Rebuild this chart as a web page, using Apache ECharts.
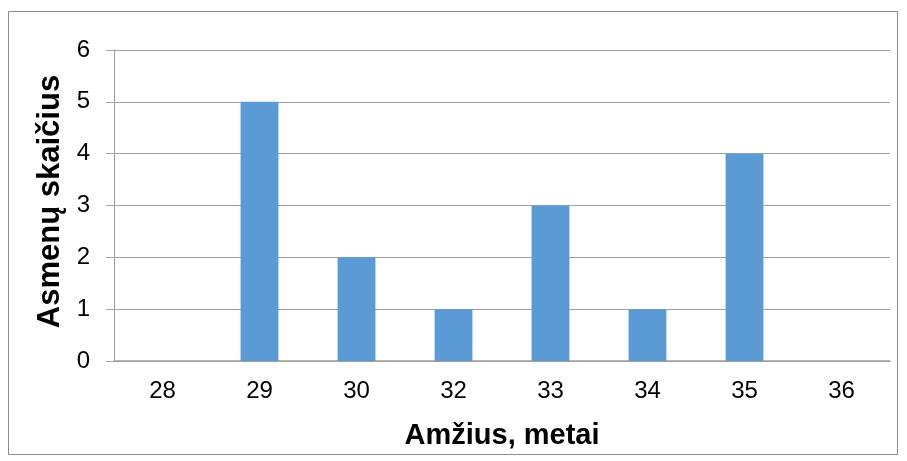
<!DOCTYPE html>
<html>
<head>
<meta charset="utf-8">
<script src="https://cdn.jsdelivr.net/npm/echarts@6/dist/echarts.min.js"></script>
<style>
  html, body { margin: 0; padding: 0; background: #fff; }
  #chart { width: 907px; height: 461px; }
</style>
</head>
<body>
<div id="chart"></div>
<script>
// Age groups (years) and number of persons in each
const ages = ['28', '29', '30', '32', '33', '34', '35', '36'];
const persons = [0, 5, 2, 1, 3, 1, 4, 0];
const yTicks = { min: 0, max: 6, interval: 1 };

const font = 'Liberation Sans, Arial, sans-serif';
const chart = echarts.init(document.getElementById('chart'), null, { renderer: 'canvas' });

chart.setOption({
  animation: false,
  backgroundColor: '#fff',
  graphic: [{
    type: 'rect',
    shape: { x: 8.5, y: 11.5, width: 889, height: 443 },
    style: { fill: 'none', stroke: '#8c8c8c', lineWidth: 1 },
    silent: true
  }],
  grid: { left: 114, right: 17, top: 50, bottom: 100 },
  xAxis: {
    type: 'category',
    data: ages,
    name: 'Amžius, metai',
    nameLocation: 'middle',
    nameGap: 60,
    nameTextStyle: { fontFamily: font, fontSize: 29, fontWeight: 'bold', color: '#000' },
    axisLine: { lineStyle: { color: '#a0a0a0', width: 1.5 } },
    axisTick: { show: false },
    axisLabel: { fontFamily: font, fontSize: 24, color: '#000', margin: 18 }
  },
  yAxis: {
    type: 'value',
    min: yTicks.min,
    max: yTicks.max,
    interval: yTicks.interval,
    name: 'Asmenų skaičius',
    nameLocation: 'middle',
    nameGap: 45,
    nameTextStyle: { fontFamily: font, fontSize: 31, fontWeight: 'bold', color: '#000', padding: [0, 0, 0, 8] },
    axisLine: { show: true, lineStyle: { color: '#a0a0a0', width: 1 } },
    axisTick: { show: true, length: 8, inside: false, lineStyle: { color: '#a0a0a0' } },
    splitLine: { lineStyle: { color: '#a0a0a0', width: 1 } },
    axisLabel: { fontFamily: font, fontSize: 24, color: '#000', margin: 24 }
  },
  series: [{
    type: 'bar',
    data: persons,
    barWidth: '39%',
    itemStyle: { color: '#5b9bd5' }
  }]
});
</script>
</body>
</html>
